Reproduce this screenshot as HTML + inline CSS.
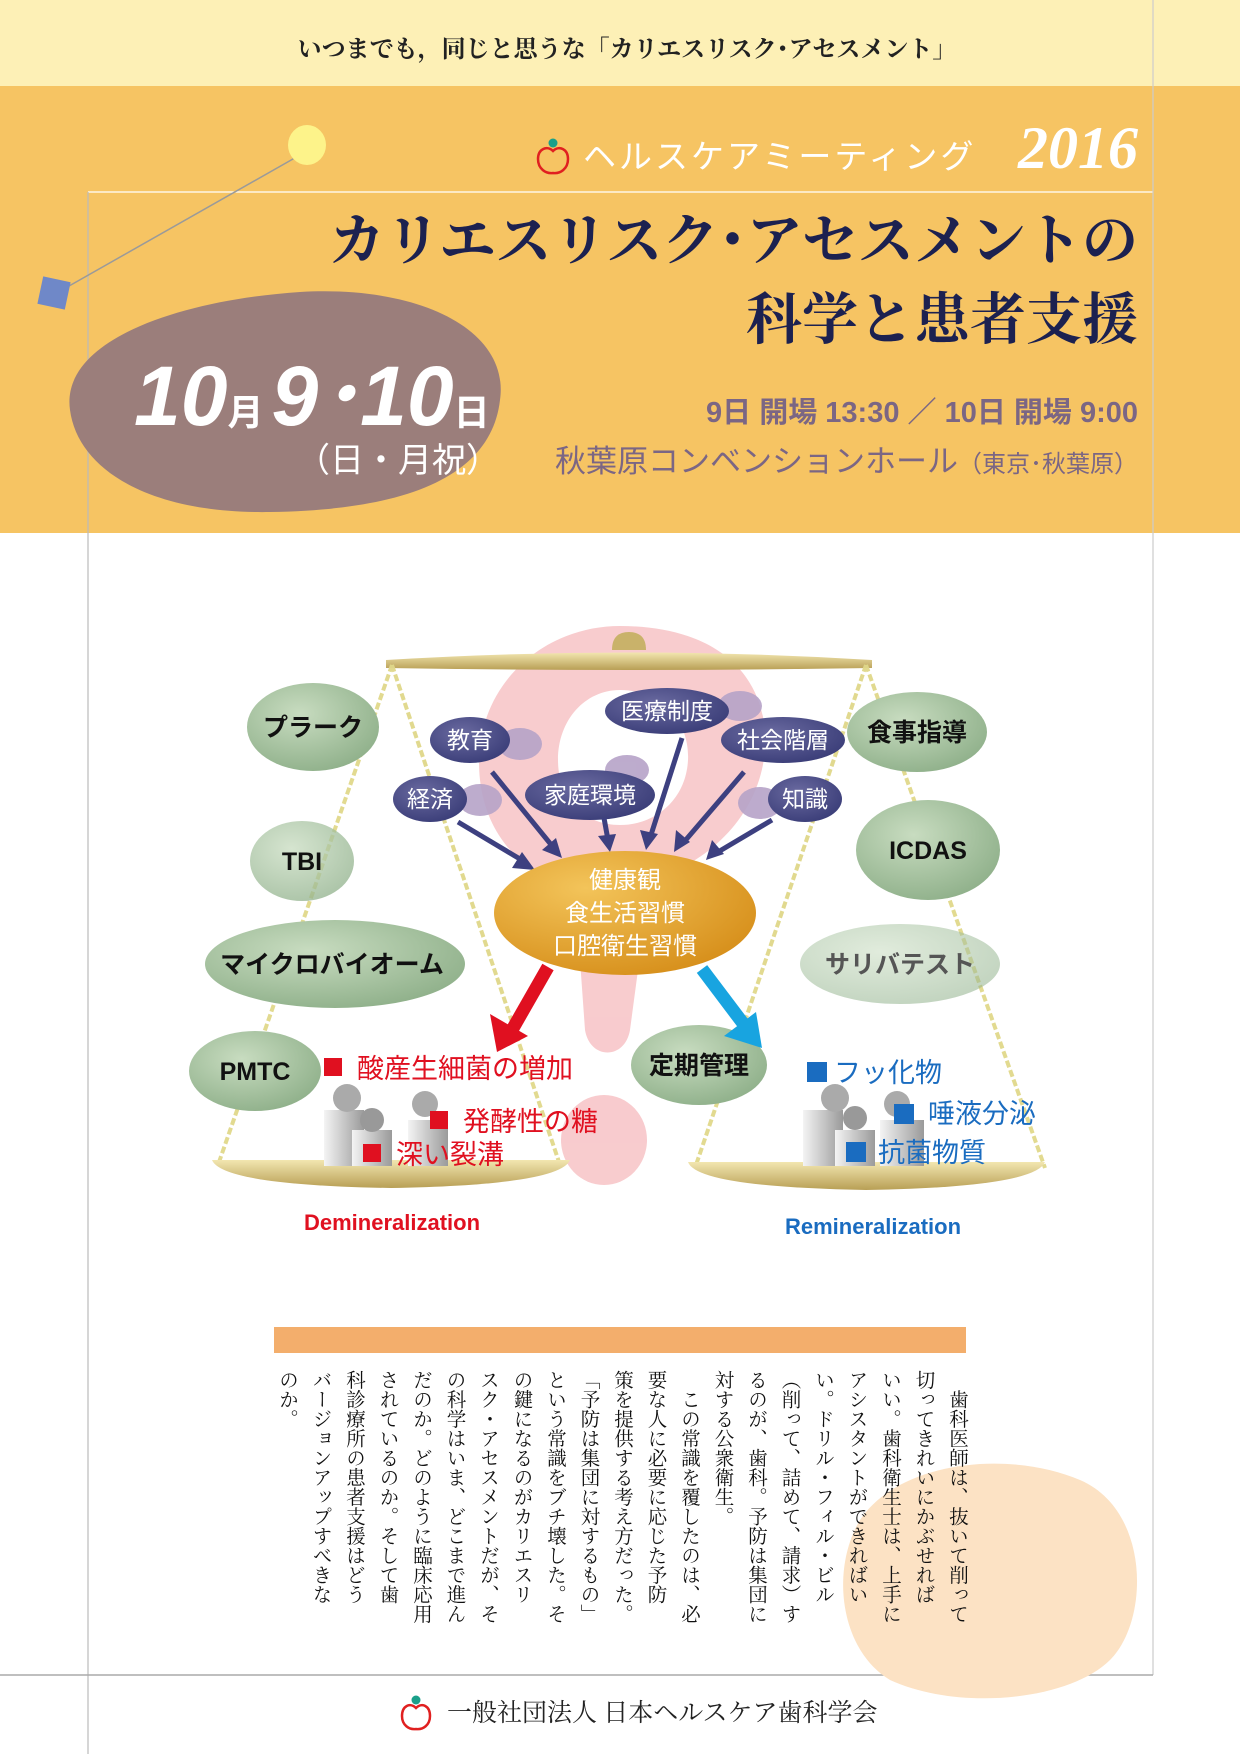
<!DOCTYPE html>
<html><head><meta charset="utf-8">
<style>
html,body{margin:0;padding:0;}
body{width:1240px;height:1754px;position:relative;overflow:hidden;background:#fff;}
svg{position:absolute;left:0;top:0;}
.vt{position:absolute;writing-mode:vertical-rl;font-family:"Liberation Serif","Noto Serif CJK SC",serif;font-size:19.5px;line-height:33.5px;color:#111;top:1370px;right:267px;height:245px;white-space:nowrap;}
</style></head><body>
<svg width="1240" height="1754" viewBox="0 0 1240 1754" xmlns="http://www.w3.org/2000/svg">
<defs>
<radialGradient id="gg" cx="40%" cy="35%" r="70%"><stop offset="0" stop-color="#c8dcc0"/><stop offset="1" stop-color="#8fb08a"/></radialGradient>
<radialGradient id="ng" cx="40%" cy="35%" r="70%"><stop offset="0" stop-color="#6a6aa0"/><stop offset="1" stop-color="#3a3d78"/></radialGradient>
<radialGradient id="og" cx="35%" cy="30%" r="75%"><stop offset="0" stop-color="#f3c45a"/><stop offset="1" stop-color="#d7901c"/></radialGradient>
<linearGradient id="pan" x1="0" y1="0" x2="0" y2="1"><stop offset="0" stop-color="#f2e6b0"/><stop offset="1" stop-color="#b89f55"/></linearGradient>
<linearGradient id="fig" x1="0" y1="0" x2="1" y2="0"><stop offset="0" stop-color="#f4f4f4"/><stop offset="1" stop-color="#9a9a9a"/></linearGradient>
</defs>
<rect x="0" y="0" width="1240" height="86" fill="#fdf0b6"/>
<rect x="0" y="86" width="1240" height="447" fill="#f6c463"/>
<text x="627" y="57" text-anchor="middle" font-family="Liberation Serif,Noto Serif CJK SC,serif" font-size="24" font-weight="bold" fill="#222">いつまでも，同じと思うな「カリエスリスク･アセスメント」</text>
<line x1="88" y1="192" x2="1153" y2="192" stroke="#fff" stroke-width="1.2"/>
<line x1="88" y1="192" x2="88" y2="1754" stroke="#bbb" stroke-width="1.2"/>
<line x1="1153" y1="0" x2="1153" y2="1675" stroke="#ccc" stroke-width="1.2"/>
<line x1="0" y1="1675" x2="1153" y2="1675" stroke="#aaa" stroke-width="1.5"/>
<line x1="300" y1="155" x2="62" y2="290" stroke="#9a9a9a" stroke-width="1.5"/>
<ellipse cx="307" cy="145" rx="19" ry="20" fill="#fdf38a"/>
<rect x="40" y="279" width="28" height="28" fill="#6f88c8" transform="rotate(12 54 293)"/>
<g transform="translate(553,157)">
<path d="M0,-6 C-6,-12 -15,-8 -15,2 C-15,12 -7,17 0,16 C7,17 15,12 15,2 C15,-8 6,-12 0,-6Z" fill="none" stroke="#e02020" stroke-width="2.5"/>
<circle cx="0" cy="-14" r="4.5" fill="#1aa08a"/>
</g>
<text x="583" y="168" font-family="Liberation Sans,Noto Sans CJK JP,sans-serif" font-size="33" letter-spacing="3" fill="#fff">ヘルスケアミーティング</text>
<text x="1138" y="168" text-anchor="end" font-family="Liberation Serif,serif" font-style="italic" font-weight="bold" font-size="60" fill="#fff">2016</text>
<text x="1138" y="260" text-anchor="end" font-family="Liberation Serif,Noto Serif CJK SC,serif" font-weight="bold" font-size="56" fill="#1c2150">カリエスリスク･アセスメントの</text>
<text x="1138" y="339" text-anchor="end" font-family="Liberation Serif,Noto Serif CJK SC,serif" font-weight="bold" font-size="56" fill="#1c2150">科学と患者支援</text>
<path d="M70,410 C60,340 180,300 300,292 C420,285 510,330 500,400 C492,470 420,510 270,512 C150,514 78,470 70,410Z" fill="#9b7e7b"/>
<text font-family="Liberation Sans,Noto Sans CJK JP,sans-serif" font-weight="bold" font-style="italic" fill="#fff">
<tspan x="134" y="425" font-size="84">10</tspan><tspan font-size="36" font-style="normal">月</tspan><tspan font-size="84" dx="8">9･10</tspan><tspan font-size="36" font-style="normal">日</tspan>
</text>
<text x="296" y="472" font-family="Liberation Sans,Noto Sans CJK JP,sans-serif" font-size="34" fill="#fff">（日・月祝）</text>
<text x="1138" y="422" text-anchor="end" font-family="Liberation Sans,Noto Sans CJK JP,sans-serif" font-weight="bold" font-size="29" fill="#7b6684">9日 開場 13:30 ／ 10日 開場 9:00</text>
<text x="1138" y="472" text-anchor="end" font-family="Liberation Sans,Noto Sans CJK JP,sans-serif" font-size="31" fill="#7b6684">秋葉原コンベンションホール<tspan font-size="24">（東京･秋葉原）</tspan></text>

<g fill="#f7c3c6" opacity="0.85">
<path d="M620,626 C540,626 470,690 480,780 C488,850 540,880 575,890 L585,1030 C590,1060 625,1060 630,1030 L650,880 C720,860 770,800 765,730 C758,660 700,626 620,626Z M620,690 C660,690 690,720 688,760 C686,800 655,825 620,825 C585,825 558,800 558,760 C558,720 585,690 620,690Z" fill-rule="evenodd"/>
<ellipse cx="604" cy="1140" rx="43" ry="45"/>
</g>
<path d="M386,660 Q629,645 872,660 L872,668 Q629,672 386,668Z" fill="url(#pan)"/>
<path d="M612,650 Q612,632 629,632 Q646,632 646,650Z" fill="#c9b26a"/>
<g stroke="#e0d88a" stroke-width="4" stroke-dasharray="7 3" fill="none" opacity="0.95">
<line x1="392" y1="665" x2="218" y2="1165"/>
<line x1="392" y1="665" x2="560" y2="1165"/>
<line x1="866" y1="665" x2="695" y2="1168"/>
<line x1="866" y1="665" x2="1045" y2="1168"/>
</g>
<g>
<ellipse cx="313" cy="727" rx="66" ry="44" fill="url(#gg)"/>
<ellipse cx="302" cy="861" rx="52" ry="40" fill="url(#gg)" opacity="0.75"/>
<ellipse cx="335" cy="964" rx="130" ry="44" fill="url(#gg)"/>
<ellipse cx="255" cy="1071" rx="66" ry="40" fill="url(#gg)"/>
<ellipse cx="917" cy="732" rx="70" ry="40" fill="url(#gg)"/>
<ellipse cx="928" cy="850" rx="72" ry="50" fill="url(#gg)"/>
<ellipse cx="900" cy="964" rx="100" ry="40" fill="url(#gg)" opacity="0.55"/>
<ellipse cx="699" cy="1065" rx="68" ry="40" fill="url(#gg)"/>
</g>
<g font-family="Liberation Sans,Noto Sans CJK JP,sans-serif" font-weight="bold" font-size="25" fill="#111" text-anchor="middle">
<text x="313" y="736">プラーク</text>
<text x="302" y="870">TBI</text>
<text x="332" y="973">マイクロバイオーム</text>
<text x="255" y="1080">PMTC</text>
<text x="917" y="741">食事指導</text>
<text x="928" y="859">ICDAS</text>
<text x="900" y="973" fill="#555">サリバテスト</text>
<text x="699" y="1074">定期管理</text>
</g>
<g fill="#b6a3c8" opacity="0.9">
<ellipse cx="520" cy="744" rx="22" ry="16"/><ellipse cx="740" cy="706" rx="22" ry="15"/>
<ellipse cx="627" cy="770" rx="22" ry="15"/><ellipse cx="480" cy="800" rx="22" ry="16"/><ellipse cx="760" cy="803" rx="22" ry="16"/>
</g>
<g fill="url(#ng)">
<ellipse cx="470" cy="740" rx="40" ry="23"/>
<ellipse cx="667" cy="711" rx="62" ry="23"/>
<ellipse cx="783" cy="740" rx="62" ry="23"/>
<ellipse cx="430" cy="799" rx="37" ry="23"/>
<ellipse cx="590" cy="795" rx="65" ry="25"/>
<ellipse cx="805" cy="799" rx="37" ry="23"/>
</g>
<g font-family="Liberation Sans,Noto Sans CJK JP,sans-serif" font-size="23" fill="#fff" text-anchor="middle">
<text x="470" y="748">教育</text><text x="667" y="719">医療制度</text><text x="783" y="748">社会階層</text>
<text x="430" y="807">経済</text><text x="590" y="803">家庭環境</text><text x="805" y="807">知識</text>
</g>
<g stroke="#3d4080" stroke-width="5" fill="#3d4080">
<line x1="458" y1="822" x2="525" y2="862"/><polygon points="535,870 512,868 522,852" stroke="none"/>
<line x1="492" y1="772" x2="553" y2="847"/><polygon points="562,858 542,850 556,838" stroke="none"/>
<line x1="604" y1="818" x2="608" y2="840"/><polygon points="610,852 598,836 616,834" stroke="none"/>
<line x1="682" y1="738" x2="650" y2="838"/><polygon points="646,850 640,830 658,834" stroke="none"/>
<line x1="744" y1="772" x2="684" y2="842"/><polygon points="674,852 676,830 690,842" stroke="none"/>
<line x1="772" y1="820" x2="718" y2="852"/><polygon points="706,860 712,840 724,854" stroke="none"/>
</g>
<ellipse cx="625" cy="913" rx="131" ry="62" fill="url(#og)"/>
<g font-family="Liberation Sans,Noto Sans CJK JP,sans-serif" font-size="24" fill="#fff" text-anchor="middle">
<text x="625" y="888">健康観</text><text x="625" y="921">食生活習慣</text><text x="625" y="954">口腔衛生習慣</text>
</g>
<line x1="548" y1="967" x2="512" y2="1030" stroke="#e01020" stroke-width="13"/>
<polygon points="497,1052 490,1014 528,1036" fill="#e01020"/>
<line x1="702" y1="969" x2="745" y2="1026" stroke="#18a4e0" stroke-width="13"/>
<polygon points="762,1048 724,1036 756,1012" fill="#18a4e0"/>
<path d="M212,1160 L570,1160 Q560,1185 391,1188 Q222,1185 212,1160Z" fill="url(#pan)"/>
<path d="M688,1162 L1045,1162 Q1035,1187 866,1190 Q697,1187 688,1162Z" fill="url(#pan)"/>
<g fill="url(#fig)">
<rect x="324" y="1110" width="40" height="56"/><circle cx="347" cy="1098" r="14" fill="#aaa"/>
<rect x="352" y="1130" width="40" height="36"/><circle cx="372" cy="1120" r="12" fill="#999"/>
<rect x="408" y="1120" width="40" height="46"/><circle cx="425" cy="1104" r="13" fill="#aaa"/>
<rect x="803" y="1110" width="40" height="56"/><circle cx="835" cy="1098" r="14" fill="#aaa"/>
<rect x="835" y="1130" width="40" height="36"/><circle cx="855" cy="1118" r="12" fill="#999"/>
<rect x="880" y="1120" width="44" height="46"/><circle cx="897" cy="1104" r="13" fill="#aaa"/>
</g>
<g font-family="Liberation Sans,Noto Sans CJK JP,sans-serif" font-size="27" fill="#e01020">
<rect x="324" y="1058" width="18" height="18" fill="#e01020"/><text x="357" y="1078">酸産生細菌の増加</text>
<rect x="430" y="1111" width="18" height="18" fill="#e01020"/><text x="463" y="1131">発酵性の糖</text>
<rect x="363" y="1144" width="18" height="18" fill="#e01020"/><text x="396" y="1164">深い裂溝</text>
</g>
<g font-family="Liberation Sans,Noto Sans CJK JP,sans-serif" font-size="27" fill="#1a6cc0">
<rect x="807" y="1062" width="20" height="20" fill="#1a6cc0"/><text x="834" y="1082">フッ化物</text>
<rect x="894" y="1104" width="20" height="20" fill="#1a6cc0"/><text x="928" y="1123">唾液分泌</text>
<rect x="846" y="1142" width="20" height="20" fill="#1a6cc0"/><text x="878" y="1162">抗菌物質</text>
</g>
<text x="304" y="1230" font-family="Liberation Sans,sans-serif" font-weight="bold" font-size="22" fill="#e01020">Demineralization</text>
<text x="785" y="1234" font-family="Liberation Sans,sans-serif" font-weight="bold" font-size="22" fill="#1a6cc0">Remineralization</text>
<rect x="274" y="1327" width="692" height="26" fill="#f3ae6c"/>
<path d="M860,1520 C900,1460 1010,1450 1080,1480 C1150,1510 1150,1620 1110,1660 C1070,1700 960,1712 890,1680 C840,1650 830,1570 860,1520Z" fill="#fce2c4"/>
<g transform="translate(416,1714)">
<path d="M0,-6 C-6,-12 -14,-8 -14,2 C-14,11 -7,16 0,15 C7,16 14,11 14,2 C14,-8 6,-12 0,-6Z" fill="none" stroke="#e02020" stroke-width="2.5"/>
<circle cx="0" cy="-14" r="4.5" fill="#1aa08a"/>
</g>
<text x="447" y="1721" font-family="Liberation Serif,Noto Serif CJK SC,serif" font-size="25" fill="#222">一般社団法人 日本ヘルスケア歯科学会</text>
</svg>
<div class="vt">&#12288;歯科医師は、抜いて削って<br>切ってきれいにかぶせれば<br>いい。歯科衛生士は、上手に<br>アシスタントができればい<br>い。ドリル・フィル・ビル<br>（削って、詰めて、請求）す<br>るのが、歯科。予防は集団に<br>対する公衆衛生。<br>&#12288;この常識を覆したのは、必<br>要な人に必要に応じた予防<br>策を提供する考え方だった。<br>「予防は集団に対するもの」<br>という常識をブチ壊した。そ<br>の鍵になるのがカリエスリ<br>スク・アセスメントだが、そ<br>の科学はいま、どこまで進ん<br>だのか。どのように臨床応用<br>されているのか。そして歯<br>科診療所の患者支援はどう<br>バージョンアップすべきな<br>のか。</div>
</body></html>
